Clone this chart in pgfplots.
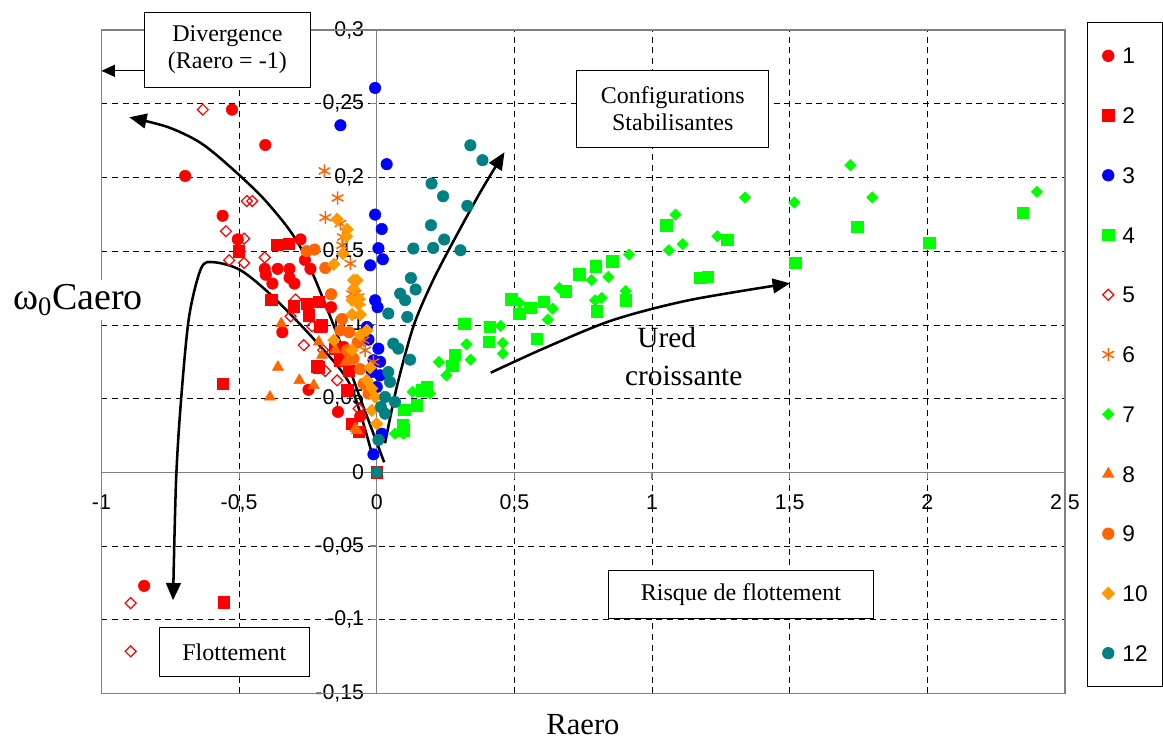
\documentclass[border=0pt]{standalone}
\usepackage{fontspec}
\setmainfont{Liberation Serif}
\setsansfont{Liberation Sans}
\usepackage{pgfplots}
\pgfplotsset{compat=1.18}
\usetikzlibrary{arrows.meta}
\definecolor{cteal}{HTML}{008080}
\definecolor{corange}{HTML}{FF6600}
\definecolor{cgold}{HTML}{FF9900}
\definecolor{cgreen}{HTML}{00FF00}
\begin{document}
\begin{tikzpicture}
\begin{axis}[
  name=ax,
  scale only axis, width=722.6pt, height=497.6pt,
  xmin=-1, xmax=2.5, ymin=-0.15, ymax=0.3,
  axis lines=middle, axis line style={-, draw=gray, line width=0.9pt},
  clip=false,
  xtick={-1,-0.5,0,0.5,1,1.5,2,2.5},
  xticklabels={-1,{-0,5},0,{0,5},1,{1,5},2,{2,5}},
  ytick={-0.15,-0.1,-0.05,0,0.05,0.1,0.15,0.2,0.25,0.3},
  yticklabels={{-0,15},{-0,1},{-0,05},0,{0,05},{0,1},{0,15},{0,2},{0,25},{0,3}},
  hide obscured x ticks=false, hide obscured y ticks=false,
  ticklabel style={font=\sffamily\fontsize{16}{18}\selectfont},
  xticklabel style={yshift=-8pt},
  yticklabel style={xshift=-1pt},
  grid=major, major grid style={black, line width=0.5pt, dash pattern=on 4.5pt off 3.5pt},
  tick style={gray, line width=0.9pt}, major tick length=5pt,
  tick align=outside,
  every axis x label/.style={at={(rel axis cs:0.4997,-0.047)}, anchor=center, font=\fontsize{23}{23}\selectfont},
  every axis y label/.style={at={(rel axis cs:-0.0244,0.593)}, anchor=center, fill=white, inner sep=3pt, font=\fontsize{28.5}{28.5}\selectfont},
  xlabel={Raero}, ylabel={ω\textsubscript{0}Caero},
  legend style={at={(rel axis cs:1.0228,1.0121)}, anchor=north west, draw=black, line width=0.6pt, fill=white,
    font=\sffamily\fontsize{17}{17}\selectfont, row sep=32.6pt, inner xsep=11pt, inner ysep=19pt,
    nodes={inner sep=0pt, text height=12.2pt, text depth=0pt, anchor=west},
    /tikz/every odd column/.append style={column sep=6pt}},
  legend cell align=left,
]
% 1 red circles
\addplot[only marks, mark=*, mark size=4.3pt, color=red] coordinates {
(-0.696,0.201) (-0.526,0.246) (-0.405,0.222) (-0.56,0.174) (-0.505,0.158) (-0.277,0.158)
(-0.261,0.144) (-0.241,0.138) (-0.407,0.138) (-0.36,0.138) (-0.317,0.138) (-0.403,0.134)
(-0.379,0.128) (-0.317,0.132) (-0.299,0.128) (-0.166,0.112) (-0.343,0.095) (-0.248,0.056)
(-0.141,0.041) (-0.845,-0.077) (-0.12,0.085) (-0.06,0.038)};
\addlegendentry{1}
% 2 red squares
\addplot[only marks, mark=square*, mark size=4.3pt, color=red] coordinates {
(-0.56,0.06) (-0.556,-0.088) (-0.502,0.150) (-0.364,0.1545) (-0.319,0.155) (-0.383,0.117)
(-0.301,0.1126) (-0.253,0.1144) (-0.211,0.1155) (-0.199,0.0997) (-0.15,0.0839) (-0.211,0.0714)
(-0.132,0.076) (-0.102,0.069) (-0.108,0.0556) (-0.09,0.033) (-0.066,0.0274) (-0.247,0.1065)
(-0.205,0.0986) (-0.217,0.072) (0,0)};
\addlegendentry{2}
% 3 blue circles
\addplot[only marks, mark=*, mark size=4.3pt, color=blue] coordinates {
(-0.006,0.2607) (-0.132,0.2354) (0.036,0.209) (-0.006,0.1748) (0.018,0.165) (0.006,0.152)
(-0.024,0.1404) (0.022,0.1445) (-0.006,0.1167) (0.003,0.112) (-0.036,0.0986) (0.006,0.0839)
(-0.012,0.076) (0.012,0.0658) (-0.018,0.068) (0.0,0.0579) (0.018,0.0262) (-0.012,0.0122)
(0.012,0.075) (-0.03,0.09)};
\addlegendentry{3}
% 4 green squares
\addplot[only marks, mark=square*, mark size=4.3pt, color=cgreen] coordinates {
(0.317,0.1006) (0.41,0.0986) (0.407,0.0884) (0.488,0.1174) (0.518,0.1077) (0.557,0.1115)
(0.606,0.1155) (0.582,0.0907) (0.687,0.1228) (0.735,0.1343) (0.796,0.1398) (0.856,0.1431)
(0.799,0.1092) (0.904,0.1167) (1.052,0.1676) (0.283,0.0798) (0.275,0.0721) (0.181,0.0579)
(0.163,0.0556) (0.145,0.0455) (0.1,0.0425) (0.094,0.0324) (0.097,0.0285) (1.274,0.1579)
(1.175,0.1318) (1.203,0.1325) (1.521,0.1423) (1.745,0.1665) (2.007,0.1556) (2.347,0.176)};
\addlegendentry{4}
% 5 red open diamonds
\addplot[only marks, mark=square, mark size=2.9pt, color=red, mark options={rotate=45, line width=0.9pt, fill=white}] coordinates {
(-0.632,0.246) (-0.472,0.184) (-0.452,0.184) (-0.548,0.1635) (-0.482,0.1585) (-0.536,0.1438)
(-0.482,0.142) (-0.407,0.1457) (-0.295,0.1172) (-0.313,0.1058) (-0.235,0.099) (-0.265,0.0862)
(-0.195,0.0828) (-0.187,0.0687) (-0.144,0.0624) (-0.066,0.0432) (-0.894,-0.0887) (-0.894,-0.1214)};
\addlegendentry{5}
% 6 orange asterisks
\addplot[only marks, mark=asterisk, mark size=5pt, color=corange, mark options={line width=1.1pt}] coordinates {
(-0.19,0.2044) (-0.142,0.1861) (-0.187,0.1728) (-0.132,0.1687) (-0.123,0.1596) (-0.126,0.154)
(-0.096,0.1416) (-0.078,0.1212) (-0.062,0.1155) (-0.09,0.121) (-0.066,0.119) (-0.042,0.0828)
(-0.012,0.0748) (-0.048,0.0896)};
\addlegendentry{6}
% 7 green diamonds
\addplot[only marks, mark=square*, mark size=3pt, color=cgreen, mark options={rotate=45}] coordinates {
(0.45,0.0993) (0.458,0.0877) (0.458,0.0805) (0.326,0.0868) (0.341,0.0764) (0.226,0.0748)
(0.253,0.0658) (0.13,0.0545) (0.193,0.0534) (0.066,0.0262) (0.097,0.0262) (0.518,0.1149)
(0.639,0.111) (0.621,0.1036) (0.663,0.125) (0.78,0.1303) (0.841,0.1325) (0.793,0.1167)
(0.817,0.1183) (0.904,0.123) (0.916,0.1477) (1.061,0.1506) (1.085,0.1748) (1.111,0.1547)
(1.237,0.1601) (1.338,0.1864) (1.517,0.183) (1.72,0.2083) (1.8,0.1864) (2.398,0.1902)};
\addlegendentry{7}
% 8 orange triangles
\addplot[only marks, mark=triangle*, mark size=4.8pt, color=corange] coordinates {
(-0.359,0.0714) (-0.388,0.0511) (-0.281,0.0624) (-0.229,0.059) (-0.347,0.1009) (-0.211,0.0884)
(-0.199,0.0794) (-0.15,0.0832) (-0.072,0.0285) (-0.114,0.0748) (-0.078,0.03)};
\addlegendentry{8}
% 9 orange circles
\addplot[only marks, mark=*, mark size=4.3pt, color=corange] coordinates {
(-0.255,0.150) (-0.226,0.1511) (-0.187,0.1386) (-0.166,0.1208) (-0.132,0.0963) (-0.126,0.104)
(-0.108,0.0828) (-0.084,0.077) (-0.06,0.07) (-0.048,0.06) (-0.03,0.0534) (-0.1,0.095) (-0.07,0.088)};
\addlegendentry{9}
% 10 gold diamonds
\addplot[only marks, mark=square*, mark size=3.3pt, color=cgold, mark options={rotate=45}] coordinates {
(-0.144,0.1716) (-0.108,0.1647) (-0.11,0.16) (-0.123,0.1484) (-0.156,0.1411) (-0.084,0.1303)
(-0.072,0.1303) (-0.084,0.1246) (-0.066,0.1178) (-0.09,0.1167) (-0.066,0.114) (-0.09,0.107)
(-0.06,0.107) (-0.036,0.0963) (-0.06,0.093) (-0.156,0.0896) (-0.09,0.0828) (-0.024,0.071)
(-0.036,0.0624) (-0.018,0.0568) (-0.006,0.0511) (-0.018,0.042) (0,0.033)};
\addlegendentry{10}
% 12 teal circles
\addplot[only marks, mark=*, mark size=4.3pt, color=cteal] coordinates {
(0.34,0.2218) (0.384,0.2117) (0.199,0.1959) (0.241,0.1872) (0.329,0.1807) (0.197,0.1676)
(0.245,0.1579) (0.205,0.1522) (0.133,0.1518) (0.304,0.1506) (0.124,0.1318) (0.141,0.124)
(0.085,0.1212) (0.103,0.1167) (0.042,0.1077) (0.111,0.1054) (0.06,0.0873) (0.078,0.0839)
(0.121,0.0764) (0.042,0.068) (0.048,0.0613) (0.066,0.0477) (0.03,0.0511) (0.03,0.0398)
(0.015,0.0443) (0.006,0.022) (0,0)};
\addlegendentry{12}
% frame
\draw[gray, line width=0.9pt] (rel axis cs:0,0) rectangle (rel axis cs:1,1);
% arrows
\draw[line width=1.9pt, -{Triangle[length=13pt, width=11pt]}] plot[smooth] coordinates {
(axis cs:0.027,0.0068) (axis cs:-0.06,0.0502) (axis cs:-0.158,0.1004) (axis cs:-0.277,0.1526)
(axis cs:-0.396,0.1825) (axis cs:-0.519,0.2049) (axis cs:-0.638,0.2232) (axis cs:-0.758,0.2341) (axis cs:-0.899,0.2408)};
\draw[line width=1.9pt, -{Triangle[length=13pt, width=11pt]}] plot[smooth] coordinates {
(axis cs:-0.013,0.0095) (axis cs:-0.096,0.059) (axis cs:-0.215,0.0875) (axis cs:-0.375,0.1187)
(axis cs:-0.494,0.137) (axis cs:-0.592,0.1425) (axis cs:-0.638,0.1384) (axis cs:-0.682,0.1052)
(axis cs:-0.711,0.0488) (axis cs:-0.729,-0.0054) (axis cs:-0.74,-0.0868)};
\draw[line width=1.9pt, -{Triangle[length=13pt, width=11pt]}] plot[smooth] coordinates {
(axis cs:0.03,0.0197) (axis cs:0.0727,0.0579) (axis cs:0.132,0.0984) (axis cs:0.193,0.1257)
(axis cs:0.255,0.1486) (axis cs:0.374,0.1893) (axis cs:0.464,0.2171)};
\draw[line width=1.9pt, -{Triangle[length=13pt, width=11pt]}] plot[smooth] coordinates {
(axis cs:0.414,0.0676) (axis cs:0.616,0.0848) (axis cs:0.855,0.1031) (axis cs:1.133,0.1167) (axis cs:1.501,0.1282)};
\draw[line width=0.7pt, -{Triangle[length=10pt, width=9pt]}] (axis cs:-0.845,0.2723) -- (axis cs:-1,0.2723);
% boxes
\node[draw, fill=white, line width=0.6pt, minimum width=125pt, minimum height=56pt, align=center, inner sep=0pt,
  font=\fontsize{18}{20}\selectfont] at (axis cs:-0.5427,0.2866) {Divergence\\(Raero = -1)};
\node[draw, fill=white, line width=0.6pt, minimum width=144pt, minimum height=58pt, align=center, inner sep=0pt,
  font=\fontsize{18}{20}\selectfont] at (axis cs:1.0752,0.2466) {Configurations\\Stabilisantes};
\node[draw, fill=white, line width=0.6pt, minimum width=199pt, minimum height=36pt, align=center, inner sep=0pt,
  font=\fontsize{18}{20}\selectfont] at (axis cs:1.3229,-0.0828) {Risque de flottement};
\node[draw, fill=white, line width=0.6pt, minimum width=113pt, minimum height=37pt, align=center, inner sep=0pt,
  font=\fontsize{18}{20}\selectfont] at (axis cs:-0.5174,-0.1218) {Flottement};
\node[inner sep=0pt, font=\fontsize{22}{22}\selectfont] at (axis cs:1.053,0.0915) {Ured};
\node[inner sep=0pt, font=\fontsize{22}{22}\selectfont] at (axis cs:1.115,0.0655) {croissante};
\end{axis}
\pgfresetboundingbox
\path ([shift={(-76.1pt,-34.9pt)}]ax.south west) rectangle ([shift={(73.5pt,22.5pt)}]ax.north east);
\end{tikzpicture}
\end{document}
